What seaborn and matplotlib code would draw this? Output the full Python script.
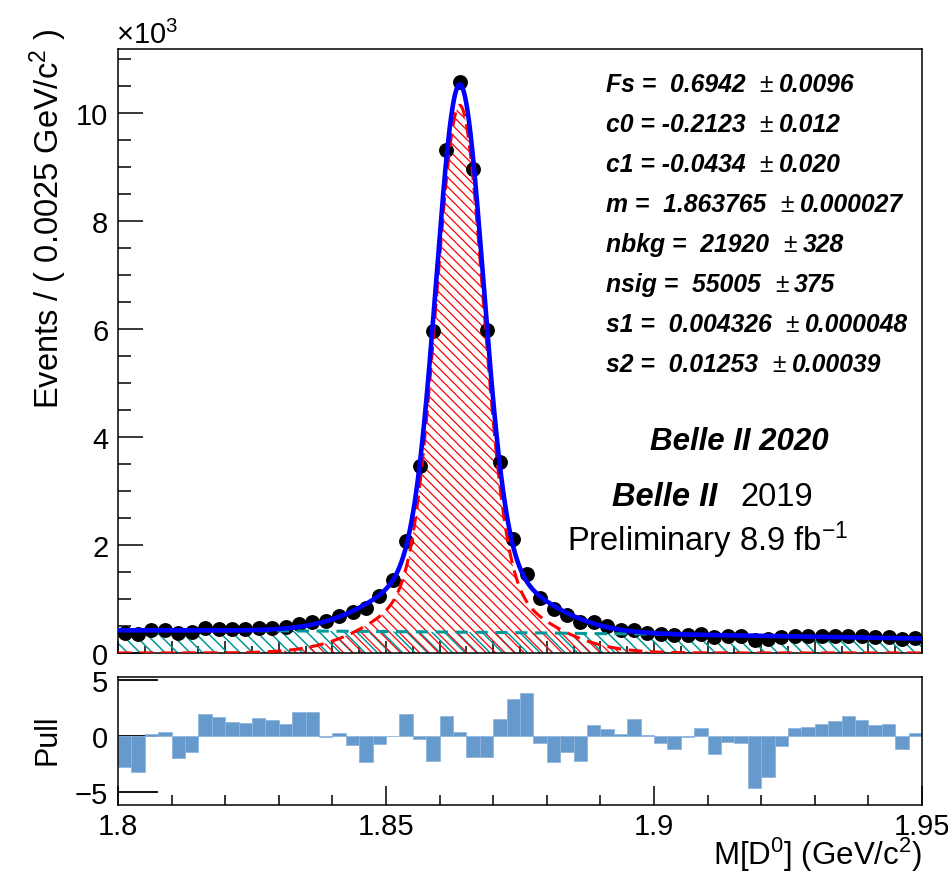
import numpy as np
import pandas as pd
import matplotlib
matplotlib.use("Agg")
import matplotlib.pyplot as plt
import seaborn as sns
from matplotlib.ticker import MultipleLocator, FixedLocator, NullFormatter, FixedFormatter
from matplotlib.collections import LineCollection

# ---------------- data ----------------
mass_lo, mass_hi = 1.80, 1.95
n_bins = 60
counts = [364, 353, 424, 427, 378, 388, 457, 453, 445, 446,
          460, 468, 479, 533, 578, 587, 679, 755, 837, 1051,
          1345, 2065, 3455, 5967, 9320, 10569, 8962, 5984, 3546, 2108,
          1464, 1026, 808, 701, 575, 568, 493, 435, 429, 378,
          348, 329, 340, 350, 304, 319, 313, 236, 251, 297,
          322, 320, 320, 320, 324, 313, 301, 298, 255, 275]
pulls = [-2.8, -3.27, 0.2, 0.4, -1.95, -1.44, 1.95, 1.74, 1.29, 1.2,
         1.6, 1.44, 1.08, 2.2, 2.2, -0.06, 0.3, -0.78, -2.34, -0.72,
         -0.03, 1.98, -0.27, -2.22, 1.77, 0.39, -1.92, -1.89, 1.5, 3.36,
         3.84, -0.66, -2.31, -1.47, -2.22, 1.02, 0.66, 0.18, 1.56, 0.12,
         -0.63, -1.14, -0.12, 0.69, -1.59, -0.54, -0.66, -4.71, -3.69, -0.9,
         0.75, 0.84, 1.11, 1.35, 1.83, 1.47, 1.02, 1.11, -1.2, 0.3]

# fit parameters as printed on the chart
param_names = ["Fs", "c0", "c1", "m", "nbkg", "nsig", "s1", "s2"]
param_vals = ["0.6942", "-0.2123", "-0.0434", "1.863765", "21920", "55005", "0.004326", "0.01253"]
param_errs = ["0.0096", "0.012", "0.020", "0.000027", "328", "375", "0.000048", "0.00039"]

x_tick_vals = [1.80, 1.85, 1.90, 1.95]
x_tick_labels = ["1.8", "1.85", "1.9", "1.95"]
y_tick_vals = [0, 2, 4, 6, 8, 10]
pull_tick_vals = [-5, 0, 5]
pull_tick_labels = ["\u22125", "0", "5"]

# ---------------- derived quantities ----------------
edges = np.linspace(mass_lo, mass_hi, n_bins + 1)
bw = edges[1] - edges[0]
centers = 0.5 * (edges[:-1] + edges[1:])
counts_k = np.array(counts) / 1000.0
err_k = np.sqrt(np.array(counts)) / 1000.0

p = dict(zip(param_names, map(float, param_vals)))
xx = np.linspace(mass_lo, mass_hi, 2001)

def gauss(x, mu, s):
    return np.exp(-0.5 * ((x - mu) / s) ** 2) / (np.sqrt(2 * np.pi) * s)

sig = p["nsig"] * bw * (p["Fs"] * gauss(xx, p["m"], p["s1"]) + (1 - p["Fs"]) * gauss(xx, p["m"], p["s2"]))
xp = 2 * (xx - mass_lo) / (mass_hi - mass_lo) - 1
cheb = 1 + p["c0"] * xp + p["c1"] * (2 * xp ** 2 - 1)
norm = (mass_hi - mass_lo) / 2 * (2 - 2.0 / 3.0 * p["c1"])
bkg = p["nbkg"] * bw * cheb / norm
tot = sig + bkg
sig_k, bkg_k, tot_k = sig / 1000, bkg / 1000, tot / 1000

# ---------------- style ----------------
sns.set_theme(style="white")
plt.rcParams["font.family"] = ["Liberation Sans", "DejaVu Sans"]
plt.rcParams["mathtext.fontset"] = "custom"
plt.rcParams["mathtext.rm"] = "Liberation Sans"
plt.rcParams["mathtext.it"] = "Liberation Sans:italic"
plt.rcParams["mathtext.bf"] = "Liberation Sans:bold"
plt.rcParams["axes.unicode_minus"] = True
plt.rcParams["text.color"] = "black"
plt.rcParams["xtick.color"] = "black"
plt.rcParams["ytick.color"] = "black"

W, H = 948, 878
fig = plt.figure(figsize=(W / 100, H / 100), dpi=100)
fig.patch.set_facecolor("white")

def frac_box(l, t, r, b):
    return [l / W, 1 - b / H, (r - l) / W, (b - t) / H]

MAIN_BOX = (118, 50, 922, 654)
ax = fig.add_axes(frac_box(*MAIN_BOX))
axp = fig.add_axes(frac_box(118, 678, 922, 806))

TEAL = "#009999"
BLUE = "#0000ff"
RED = "#ff0000"
PULLC = "#6699cc"

ax_w_px = MAIN_BOX[2] - MAIN_BOX[0]
ax_h_px = MAIN_BOX[3] - MAIN_BOX[1]

def hatch_fill(axis, x, ylow, yhigh, color, spacing_px, lw, zorder):
    poly = axis.fill_between(x, ylow, yhigh, facecolor="none", edgecolor="none", linewidth=0, zorder=zorder)
    dx = ax_h_px / ax_w_px
    step = spacing_px / ax_w_px
    starts = np.arange(-dx - 0.05, 1.05, step)
    # lines going from upper-left to lower-right
    segs = [[(u, 1.0), (u + dx, 0.0)] for u in starts]
    lc = LineCollection(segs, colors=color, linewidths=lw, transform=axis.transAxes, zorder=zorder)
    axis.add_collection(lc, autolim=False)
    lc.set_clip_path(poly.get_paths()[0], poly.get_transform())

# ---------------- main panel ----------------
hatch_fill(ax, xx, 0, bkg_k, TEAL, 12.5, 1.1, 1)
hatch_fill(ax, xx, 0, sig_k, RED, 9.5, 0.9, 1.5)

ax.errorbar(centers, counts_k, yerr=err_k, fmt="none", ecolor="black", elinewidth=1, zorder=2)
sns.scatterplot(x=centers, y=counts_k, ax=ax, color="black", s=115, edgecolor="black",
                linewidth=0, zorder=3, legend=False)

sns.lineplot(x=xx, y=bkg_k, ax=ax, color=TEAL, linewidth=2.2, estimator=None, sort=False,
             zorder=4, legend=False)
ax.lines[-1].set_dashes((4, 2.5))
sns.lineplot(x=xx, y=sig_k, ax=ax, color=RED, linewidth=2.2, estimator=None, sort=False,
             zorder=4, legend=False)
ax.lines[-1].set_dashes((4.5, 2.5))
sns.lineplot(x=xx, y=tot_k, ax=ax, color=BLUE, linewidth=3.3, estimator=None, sort=False,
             zorder=5, legend=False)

ax.set_xlim(mass_lo, mass_hi)
ax.set_ylim(0, 11.185)
ax.set_xlabel("")
ax.set_ylabel("")
ax.yaxis.set_major_locator(FixedLocator(y_tick_vals))
ax.yaxis.set_minor_locator(MultipleLocator(0.5))
ax.xaxis.set_major_locator(MultipleLocator(0.01))
ax.xaxis.set_minor_locator(MultipleLocator(0.005))
ax.xaxis.set_major_formatter(NullFormatter())
ax.tick_params(axis="y", which="major", direction="in", length=18, width=1.1, labelsize=21,
               pad=7, left=True, right=False, colors="black")
ax.tick_params(axis="y", which="minor", direction="in", length=9, width=1.1, left=True, right=False)
ax.tick_params(axis="x", which="major", direction="in", length=9, width=1.1, bottom=True, top=False)
ax.tick_params(axis="x", which="minor", direction="in", length=5, width=1.1, bottom=True, top=False)
for s in ax.spines.values():
    s.set_color("black")
    s.set_linewidth(1.1)

# ---------------- pull panel ----------------
pull_df = pd.DataFrame({"mass": centers, "pull": pulls})
sns.barplot(data=pull_df, x="mass", y="pull", ax=axp, native_scale=True, width=1.0,
            color=PULLC, saturation=1, errorbar=None, edgecolor="#8fb5dd", linewidth=0.6)
axp.set_xlim(mass_lo, mass_hi)
axp.set_ylim(-6.2, 5.3)
axp.set_xlabel("")
axp.set_ylabel("")
axp.yaxis.set_major_locator(FixedLocator(pull_tick_vals))
axp.yaxis.set_major_formatter(FixedFormatter(pull_tick_labels))
axp.xaxis.set_major_locator(FixedLocator(x_tick_vals))
axp.xaxis.set_major_formatter(FixedFormatter(x_tick_labels))
axp.xaxis.set_minor_locator(MultipleLocator(0.01))
axp.tick_params(axis="y", which="major", direction="in", length=29, width=1.3, labelsize=21,
                pad=7, left=True, right=False, colors="black")
axp.tick_params(axis="x", which="major", direction="in", length=14, width=1.1, labelsize=21,
                pad=5, bottom=True, top=False, colors="black")
axp.tick_params(axis="x", which="minor", direction="in", length=7, width=1.1, bottom=True, top=False)
for s in axp.spines.values():
    s.set_color("black")
    s.set_linewidth(1.1)

# ---------------- titles ----------------
fig.text(48 / W, 1 - 29 / H, "Events / ( 0.0025 GeV/c$^{2}$ )", rotation=90,
         ha="center", va="top", fontsize=23.5)
fig.text(48 / W, 1 - 740 / H, "Pull", rotation=90, ha="center", va="center", fontsize=22)
fig.text(922 / W, 1 - 855 / H, "M[D$^{0}$] (GeV/c$^{2}$)", ha="right", va="center", fontsize=22.5)
fig.text(116 / W, 1 - 44 / H, "\u00d710$^{3}$", ha="left", va="baseline", fontsize=21)

# ---------------- parameter box ----------------
fig.canvas.draw()
rend = fig.canvas.get_renderer()
for i, (nm, v, e) in enumerate(zip(param_names, param_vals, param_errs)):
    yc = 1 - (85 + 40 * i) / H
    lead = " " if not v.startswith("-") else ""
    t1 = fig.text(606 / W, yc, f"{nm} = {lead}{v}", ha="left", va="center", fontsize=17.8,
                  fontweight="bold", fontstyle="italic")
    bb = t1.get_window_extent(rend)
    t2 = fig.text((bb.x1 + 14) / W, yc, "\u00b1", ha="left", va="center", fontsize=17.8)
    bb2 = t2.get_window_extent(rend)
    fig.text((bb2.x1 + 6) / W, yc, e, ha="left", va="center", fontsize=17.8,
             fontweight="bold", fontstyle="italic")

fig.text(650 / W, 1 - 442 / H, "Belle II 2020", ha="left", va="center", fontsize=22.5,
         fontweight="bold", fontstyle="italic")
fig.text(612 / W, 1 - 497 / H, "Belle II", ha="left", va="center", fontsize=23.5,
         fontweight="bold", fontstyle="italic")
fig.text(740 / W, 1 - 497 / H, "2019", ha="left", va="center", fontsize=23.5)
fig.text(567 / W, 1 - 540 / H, "Preliminary 8.9 fb$^{\\mathregular{-1}}$", ha="left", va="center", fontsize=23.5)

fig.savefig("out.png", dpi=100, facecolor="white")
